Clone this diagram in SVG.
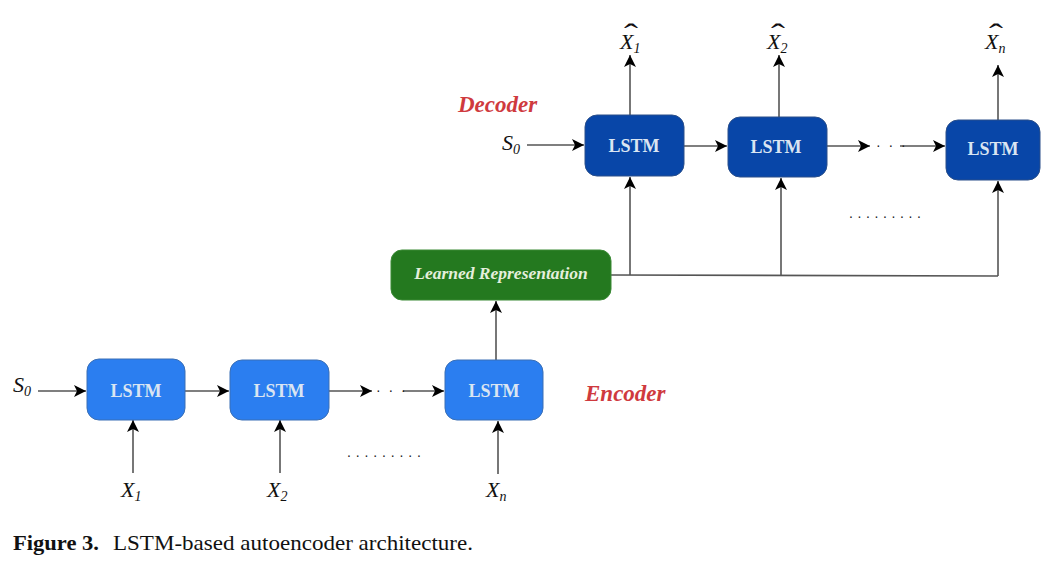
<svg xmlns="http://www.w3.org/2000/svg" width="1050" height="561" viewBox="0 0 1050 561">
<defs>
<marker id="ah" markerUnits="userSpaceOnUse" markerWidth="14" markerHeight="12" refX="12" refY="6" orient="auto">
<path d="M0,0 L12,6 L0,12 L3,6 Z" fill="#000"/>
</marker>
<style>
.enc{fill:#2b7ef0;stroke:#3a6fb5;stroke-width:1}
.dec{fill:#0846a8;stroke:#2a4f8a;stroke-width:1}
.lrn{fill:#24791f;stroke:#3a8a35;stroke-width:1}
.lt{font-family:"Liberation Serif",serif;font-weight:bold;font-size:18px;fill:#dae5f2;text-anchor:middle}
.var{font-family:"Liberation Serif",serif;font-style:italic;font-size:22px;fill:#111}
.sub{font-size:14px}
.hat{font-family:"Liberation Serif",serif;font-size:30px;fill:#111;text-anchor:middle}
.lbl{font-family:"Liberation Serif",serif;font-style:italic;font-weight:bold;font-size:23px;fill:#cf3a3e}
.ln{stroke:#555;stroke-width:1.6;fill:none}
.dots{font-family:"Liberation Sans",sans-serif;font-size:14px;fill:#222}
.cap{font-family:"Liberation Serif",serif;font-size:21px;fill:#111}
</style>
</defs>
<rect width="1050" height="561" fill="#fff"/>
<g id="connectors">
<line class="ln" x1="38" y1="391" x2="86" y2="391" marker-end="url(#ah)"/>
<line class="ln" x1="185" y1="391" x2="229" y2="391" marker-end="url(#ah)"/>
<line class="ln" x1="329" y1="391" x2="372" y2="391" marker-end="url(#ah)"/>
<line class="ln" x1="403" y1="391" x2="444" y2="391" marker-end="url(#ah)"/>
<line class="ln" x1="133" y1="473" x2="133" y2="420" marker-end="url(#ah)"/>
<line class="ln" x1="280" y1="473" x2="280" y2="420" marker-end="url(#ah)"/>
<line class="ln" x1="498" y1="474" x2="498" y2="421" marker-end="url(#ah)"/>
<line class="ln" x1="496" y1="360" x2="496" y2="301" marker-end="url(#ah)"/>
<polyline class="ln" points="611,275 998,276"/>
<line class="ln" x1="630" y1="275" x2="630" y2="177" marker-end="url(#ah)"/>
<line class="ln" x1="781" y1="276" x2="781" y2="178" marker-end="url(#ah)"/>
<line class="ln" x1="998" y1="276" x2="998" y2="181" marker-end="url(#ah)"/>
<line class="ln" x1="630" y1="115" x2="630" y2="55" marker-end="url(#ah)"/>
<line class="ln" x1="779" y1="117" x2="779" y2="55" marker-end="url(#ah)"/>
<line class="ln" x1="998" y1="120" x2="998" y2="65" marker-end="url(#ah)"/>
<line class="ln" x1="527" y1="145" x2="584" y2="145" marker-end="url(#ah)"/>
<line class="ln" x1="684" y1="146" x2="727" y2="146" marker-end="url(#ah)"/>
<line class="ln" x1="827" y1="146" x2="870" y2="146" marker-end="url(#ah)"/>
<line class="ln" x1="900" y1="146" x2="945" y2="146" marker-end="url(#ah)"/>
<text class="dots" x="876" y="150" letter-spacing="2">· · ·</text>
<text class="dots" x="376" y="395" letter-spacing="2">· · ·</text>
<text class="dots" x="849" y="218" textLength="72" lengthAdjust="spacing">.........</text>
<text class="dots" x="347" y="457" textLength="74" lengthAdjust="spacing">.........</text>
</g>
<g id="enc1"><rect class="enc" x="87" y="359" width="98" height="61" rx="12"/><text class="lt" x="136" y="397">LSTM</text></g>
<g id="enc2"><rect class="enc" x="230" y="360" width="99" height="60" rx="12"/><text class="lt" x="279" y="397">LSTM</text></g>
<g id="enc3"><rect class="enc" x="445" y="360" width="98" height="60" rx="12"/><text class="lt" x="494" y="397">LSTM</text></g>
<g id="learned"><rect class="lrn" x="391" y="250" width="220" height="50" rx="11"/><text x="501" y="279" font-family="Liberation Serif,serif" font-style="italic" font-weight="bold" font-size="17.5" fill="#e4efdc" text-anchor="middle">Learned Representation</text></g>
<g id="dec1"><rect class="dec" x="585" y="115" width="99" height="61" rx="12"/><text class="lt" x="634" y="152">LSTM</text></g>
<g id="dec2"><rect class="dec" x="728" y="117" width="99" height="60" rx="12"/><text class="lt" x="776" y="153">LSTM</text></g>
<g id="dec3"><rect class="dec" x="946" y="120" width="94" height="60" rx="12"/><text class="lt" x="993" y="155">LSTM</text></g>
<g id="labels">
<text class="var" x="13" y="392">S<tspan class="sub" dy="4">0</tspan></text>
<text class="var" x="502" y="150">S<tspan class="sub" dy="4">0</tspan></text>
<text class="var" x="121" y="497">X<tspan class="sub" dy="4">1</tspan></text>
<text class="var" x="267" y="497">X<tspan class="sub" dy="4">2</tspan></text>
<text class="var" x="486" y="497">X<tspan class="sub" dy="4">n</tspan></text>
<text class="var" x="620" y="49">X<tspan class="sub" dy="4">1</tspan></text>
<text class="hat" transform="translate(631,44) scale(1.4,1)">ˆ</text>
<text class="var" x="767" y="49">X<tspan class="sub" dy="4">2</tspan></text>
<text class="hat" transform="translate(778,44) scale(1.4,1)">ˆ</text>
<text class="var" x="985" y="49">X<tspan class="sub" dy="4">n</tspan></text>
<text class="hat" transform="translate(996,44) scale(1.4,1)">ˆ</text>
<text class="lbl" x="458" y="112">Decoder</text>
<text class="lbl" x="585" y="401">Encoder</text>
</g>
<text class="cap" x="13" y="550"><tspan font-weight="bold" textLength="86" lengthAdjust="spacingAndGlyphs">Figure 3.</tspan><tspan x="113" textLength="360" lengthAdjust="spacingAndGlyphs">LSTM-based autoencoder architecture.</tspan></text>
</svg>
